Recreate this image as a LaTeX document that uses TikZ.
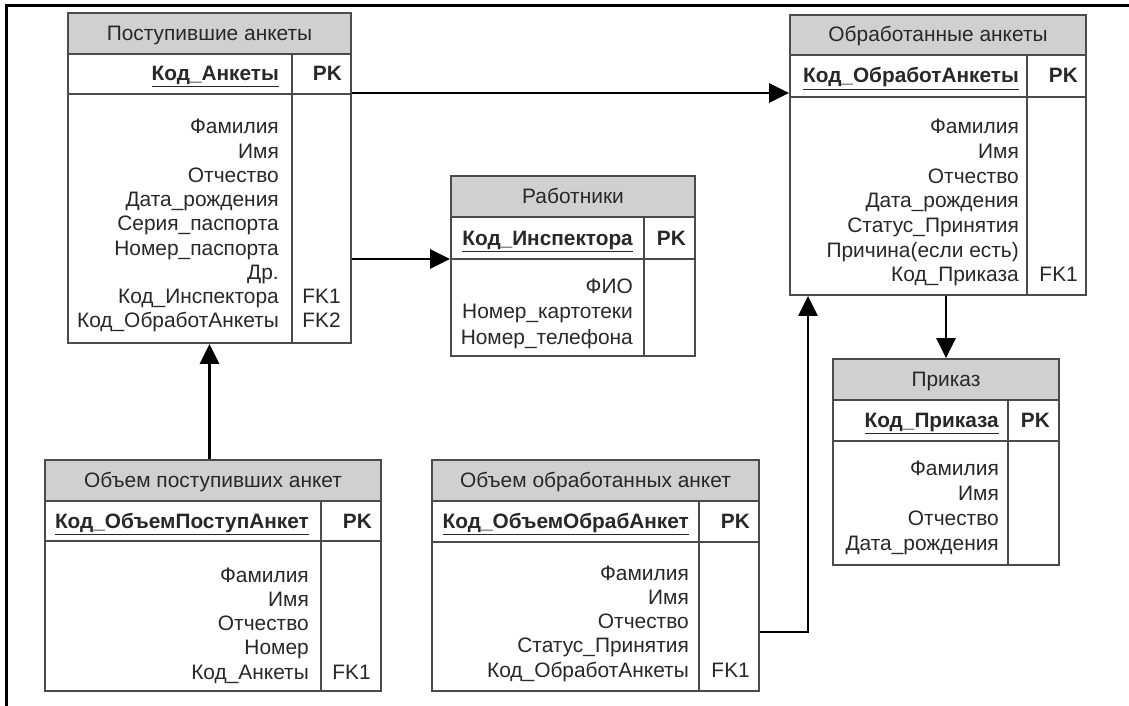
\documentclass[tikz,border=0pt]{standalone}
\usepackage{fontspec}
\setmainfont{Liberation Sans}
\usetikzlibrary{arrows.meta,fit}
\definecolor{hdr}{RGB}{208,208,208}
\definecolor{tcol}{RGB}{75,75,75}
\definecolor{txt}{RGB}{40,40,40}
\tikzset{
  tline/.style={draw=tcol,line width=1.8pt},
  ttl/.style={text=txt,font=\fontsize{20.9}{24}\selectfont,inner sep=0pt,anchor=base},
  attr/.style={text=txt,font=\fontsize{20.9}{24}\selectfont,inner sep=0pt,anchor=base east},
  pkname/.style={attr,font=\fontsize{20.8}{24}\selectfont\bfseries},
  conn/.style={draw=black,line width=2.6pt,-{Triangle[length=20pt,width=19pt]}},
  frameline/.style={draw=black,line width=3.2pt}
}
% #1 name #2 x1 #3 y1 #4 x2 #5 xdiv #6 yh #7 yp #8 y2 #9 title
\newcommand\ertab[9]{%
  \fill[hdr] (#2,#3) rectangle (#4,#6);
  \draw[tline] (#2,#6) -- (#4,#6) (#2,#7) -- (#4,#7) (#5,#6) -- (#5,#8);
  \node[tline,inner sep=0pt,fit={(#2,#3)(#4,#8)}] (#1) {};
  \node[ttl] (#1-t) at ({(#2+#4)/2},{(#3+#6)/2+7}) {#9};
}
\begin{document}
\begin{tikzpicture}[x=1pt,y=-1pt]
\useasboundingbox (0,0) rectangle (1129,706);
\fill[white] (0,0) rectangle (1129,706);
\draw[frameline] (1129,5.5) -- (6.5,5.5) -- (6.5,706);

% Table A: Поступившие анкеты
\ertab{A}{68}{13}{351}{292}{54}{94}{343}{Поступившие анкеты}
\node[pkname] (A-k) at (279,81) {\underline{Код\_Анкеты}};
\node[pkname] (A-pk) at (342,81) {PK};
\foreach \t [count=\i] in {Фамилия,Имя,Отчество,Дата\_рождения,Серия\_паспорта,Номер\_паспорта,Др.,Код\_Инспектора,Код\_ОбработАнкеты}
  \node[attr] (A-a\i) at (279,{134+(\i-1)*24.2}) {\t};
\node[attr] (A-f1) at (341,{134+7*24.2}) {FK1};
\node[attr] (A-f2) at (341,{134+8*24.2}) {FK2};

% Table B: Работники
\ertab{B}{451}{176}{695}{644}{217}{259}{356}{Работники}
\node[pkname] (B-k) at (633,245) {\underline{Код\_Инспектора}};
\node[pkname] (B-pk) at (686,245) {PK};
\foreach \t [count=\i] in {ФИО,Номер\_картотеки,Номер\_телефона}
  \node[attr] (B-a\i) at (633,{293+(\i-1)*25.5}) {\t};

% Table C: Обработанные анкеты
\ertab{C}{790}{15}{1086}{1027}{55}{97}{295}{Обработанные анкеты}
\node[pkname] (C-k) at (1019,83) {\underline{Код\_ОбработАнкеты}};
\node[pkname] (C-pk) at (1078,83) {PK};
\foreach \t [count=\i] in {Фамилия,Имя,Отчество,Дата\_рождения,Статус\_Принятия,Причина(если есть),Код\_Приказа}
  \node[attr] (C-a\i) at (1019,{134+(\i-1)*24.6}) {\t};
\node[attr] (C-f1) at (1078,{134+6*24.6}) {FK1};

% Table D: Приказ
\ertab{D}{833}{359}{1059}{1008}{400}{441}{565}{Приказ}
\node[pkname] (D-k) at (999,427.5) {\underline{Код\_Приказа}};
\node[pkname] (D-pk) at (1050,427.5) {PK};
\foreach \t [count=\i] in {Фамилия,Имя,Отчество,Дата\_рождения}
  \node[attr] (D-a\i) at (999,{475+(\i-1)*25}) {\t};

% Table E: Объем поступивших анкет
\ertab{E}{45}{460}{381}{321}{501}{541}{691}{Объем поступивших анкет}
\node[pkname] (E-k) at (309,528) {\underline{Код\_ОбъемПоступАнкет}};
\node[pkname] (E-pk) at (372,528) {PK};
\foreach \t [count=\i] in {Фамилия,Имя,Отчество,Номер,Код\_Анкеты}
  \node[attr] (E-a\i) at (309,{582+(\i-1)*24.3}) {\t};
\node[attr] (E-f1) at (371,{582+4*24.3}) {FK1};

% Table F: Объем обработанных анкет
\ertab{F}{432}{460}{759}{699}{501}{542}{691}{Объем обработанных анкет}
\node[pkname] (F-k) at (689,528.5) {\underline{Код\_ОбъемОбрабАнкет}};
\node[pkname] (F-pk) at (750,528.5) {PK};
\foreach \t [count=\i] in {Фамилия,Имя,Отчество,Статус\_Принятия,Код\_ОбработАнкеты}
  \node[attr] (F-a\i) at (689,{580+(\i-1)*24.3}) {\t};
\node[attr] (F-f1) at (750,{580+4*24.3}) {FK1};

% Connectors
\path ([yshift=85pt]A.east) coordinate (ac);
\draw[conn] (ac) -- (ac -| C.west);
\path ([yshift=-81pt]A.east) coordinate (ab);
\draw[conn] (ab) -- (ab -| B.west);
\draw[conn] (A.south |- E.north) -- (A.south);
\path ([yshift=-56.5pt]F.east) coordinate (fc);
\path ([xshift=-130pt]C.south) coordinate (cf);
\draw[conn] (fc) -| (cf);
\draw[conn] (C.south -| D.north) -- (D.north);
\end{tikzpicture}
\end{document}
